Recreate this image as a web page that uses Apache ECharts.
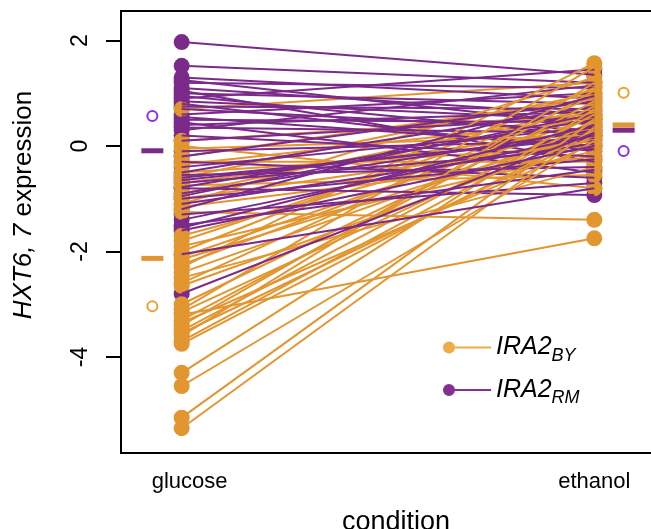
<!DOCTYPE html>
<html>
<head>
<meta charset="utf-8">
<script src="https://cdn.jsdelivr.net/npm/echarts@6/dist/echarts.min.js"></script>
<style>
  html, body { margin: 0; padding: 0; background: #fff; }
  #chart { width: 651px; height: 529px; }
</style>
</head>
<body>
<div id="chart"></div>
<script>
const conditions = ['glucose', 'ethanol']
const yTicks = [-4, -2, 0, 2]

// paired segregant values, glucose -> ethanol
const byGlucose = [0.7, 0.1, 0.0, -0.05, -0.2, -0.3, -0.35, -0.5, -0.6, -0.7, -0.75, -0.9, -1.0, -1.1, -1.15, -1.25, -1.7, -1.8, -1.9, -2.0, -2.1, -2.15, -2.25, -2.3, -2.4, -2.5, -2.6, -2.65, -3.0, -3.1, -3.15, -3.2, -3.3, -3.35, -3.4, -3.5, -3.55, -3.6, -3.7, -3.75, -4.3, -4.55, -5.15, -5.35]
const byEthanol = [1.2, 0.6, -0.8, 0.2, 0.9, -0.3, 0.5, 0.0, 1.0, 0.3, -0.55, 0.7, 0.1, 1.3, -0.2, -1.4, 0.4, 0.8, -0.1, 1.1, 0.55, 0.25, 0.65, 1.57, 0.35, -0.4, 0.95, 0.15, 0.75, 1.5, 0.45, -1.75, 0.85, 0.05, 1.05, 0.6, 0.2, 1.2, 0.5, 0.3, 0.7, 0.1, 0.5, 0.35]
const rmGlucose = [1.97, 1.52, 1.3, 1.25, 1.2, 1.1, 1.05, 1.0, 0.95, 0.9, 0.85, 0.8, 0.75, 0.7, 0.6, 0.55, 0.5, 0.45, 0.4, 0.35, 0.3, 0.2, 0.1, -0.1, -0.2, -0.3, -0.4, -0.5, -0.55, -0.6, -0.65, -0.7, -0.78, -0.8, -0.9, -0.95, -1.0, -1.1, -1.2, -1.3, -1.4, -1.5, -1.55, -1.6, -2.05, -2.8]
const rmEthanol = [1.35, 1.2, 0.9, 0.4, 1.1, 0.6, -0.3, 0.8, 0.2, 1.45, 0.5, -0.1, 0.7, 0.3, 1.0, 0.0, 0.45, -0.5, 0.65, 0.25, 1.15, -0.2, 0.55, 0.1, 0.85, -0.6, 0.35, 0.75, -0.4, 0.15, 0.2, -0.05, 0.5, -0.93, 0.3, 0.6, -0.25, 0.05, 0.95, -0.7, 0.2, -0.45, 0.4, 0.0, -0.8, 0.25]

// group summaries drawn beside each column: [glucose, ethanol]
const byMeans = [-2.13, 0.40]
const rmMeans = [-0.09, 0.30]
const byCircles = [-3.04, 1.01]
const rmCircles = [0.57, -0.095]

const ORANGE = '#E3952F'
const PURPLE = '#7B2A8A'
const FONT = 'Liberation Sans'

const chart = echarts.init(document.getElementById('chart'))

// one line per segregant, alternating strains so neither colour sits fully on top
const lineSeries = []
const n = Math.max(byGlucose.length, rmGlucose.length)
for (let i = 0; i < n; i++) {
  if (i < rmGlucose.length) {
    lineSeries.push({
      name: 'RM', type: 'line', symbol: 'none', silent: true,
      lineStyle: { color: PURPLE, width: 2 }, itemStyle: { color: PURPLE },
      data: [[1, rmGlucose[i]], [2, rmEthanol[i]]]
    })
  }
  if (i < byGlucose.length) {
    lineSeries.push({
      name: 'BY', type: 'line', symbol: 'none', silent: true,
      lineStyle: { color: ORANGE, width: 2 }, itemStyle: { color: ORANGE },
      data: [[1, byGlucose[i]], [2, byEthanol[i]]]
    })
  }
}

const dots = (g, e) => g.map(v => [1, v]).concat(e.map(v => [2, v]))
const side = (vals) => [[0.929, vals[0]], [2.071, vals[1]]]

chart.setOption({
  animation: false,
  grid: {
    left: 121, top: 11, right: -4, bottom: 76,
    outerBoundsMode: 'none',
    containLabel: false,
    show: true, borderColor: '#000', borderWidth: 2, backgroundColor: 'transparent'
  },
  legend: {
    orient: 'vertical',
    left: 438,
    top: 330,
    itemWidth: 48,
    itemHeight: 12,
    itemGap: 13,
    icon: 'path://M0,6 A6,6 0 1,1 12,6 A6,6 0 1,1 0,6 Z M6,5 L48,5 L48,7 L6,7 Z',
    data: [
      { name: 'BY', itemStyle: { color: '#EDAC47' } },
      { name: 'RM', itemStyle: { color: '#84308F' } }
    ],
    formatter: name => '{m|IRA2}{s|' + name + '}',
    textStyle: {
      color: '#000',
      rich: {
        m: { fontFamily: FONT, fontStyle: 'italic', fontSize: 25 },
        s: { fontFamily: FONT, fontStyle: 'italic', fontSize: 18, padding: [16, 0, 0, 0] }
      }
    }
  },
  xAxis: {
    type: 'value',
    min: 0.853,
    max: 2.147,
    name: 'condition',
    nameLocation: 'middle',
    nameGap: 56,
    nameTextStyle: { fontFamily: FONT, fontSize: 27, color: '#000', padding: [0, 0, 0, 16] },
    splitLine: { show: false },
    axisLine: { show: false },
    axisTick: { show: false },
    axisLabel: {
      customValues: [1, 2],
      formatter: v => (v === 1 ? '{g|' : '{e|') + conditions[Math.round(v) - 1] + '}',
      fontFamily: FONT, fontSize: 22, color: '#000', margin: 18,
      rich: {
        g: { fontFamily: FONT, fontSize: 22, color: '#000', padding: [0, 0, 0, 16] },
        e: { fontFamily: FONT, fontSize: 22, color: '#000' }
      }
    }
  },
  yAxis: {
    type: 'value',
    min: -5.82,
    max: 2.56,
    name: '{i|HXT6, 7} expression',
    nameLocation: 'middle',
    nameGap: 84,
    nameTextStyle: {
      fontFamily: FONT, fontSize: 26, color: '#000', padding: [0, 0, 0, 54],
      rich: { i: { fontFamily: FONT, fontSize: 26, fontStyle: 'italic', color: '#000' } }
    },
    splitLine: { show: false },
    axisLine: { show: false },
    axisTick: {
      show: true, customValues: yTicks, length: 15,
      lineStyle: { color: '#000', width: 2 }
    },
    axisLabel: {
      customValues: yTicks, rotate: 90,
      fontFamily: FONT, fontSize: 23, color: '#000', margin: 29
    }
  },
  series: lineSeries.concat([
    {
      type: 'scatter', silent: true, symbol: 'circle', symbolSize: 16,
      itemStyle: { color: PURPLE, opacity: 1 },
      data: dots(rmGlucose, rmEthanol)
    },
    {
      type: 'scatter', silent: true, symbol: 'circle', symbolSize: 16,
      itemStyle: { color: ORANGE, opacity: 1 },
      data: dots(byGlucose, byEthanol)
    },
    {
      type: 'scatter', silent: true, symbol: 'rect', symbolSize: [22, 5],
      itemStyle: { color: ORANGE, opacity: 1 },
      data: side(byMeans)
    },
    {
      type: 'scatter', silent: true, symbol: 'rect', symbolSize: [22, 5],
      itemStyle: { color: PURPLE, opacity: 1 },
      data: side(rmMeans)
    },
    {
      type: 'scatter', silent: true, symbol: 'emptyCircle', symbolSize: 10,
      itemStyle: { color: '#F0A02A', borderWidth: 1.8, opacity: 1 },
      data: side(byCircles)
    },
    {
      type: 'scatter', silent: true, symbol: 'emptyCircle', symbolSize: 10,
      itemStyle: { color: '#8E2CF0', borderWidth: 1.8, opacity: 1 },
      data: side(rmCircles)
    }
  ])
})
</script>
</body>
</html>
